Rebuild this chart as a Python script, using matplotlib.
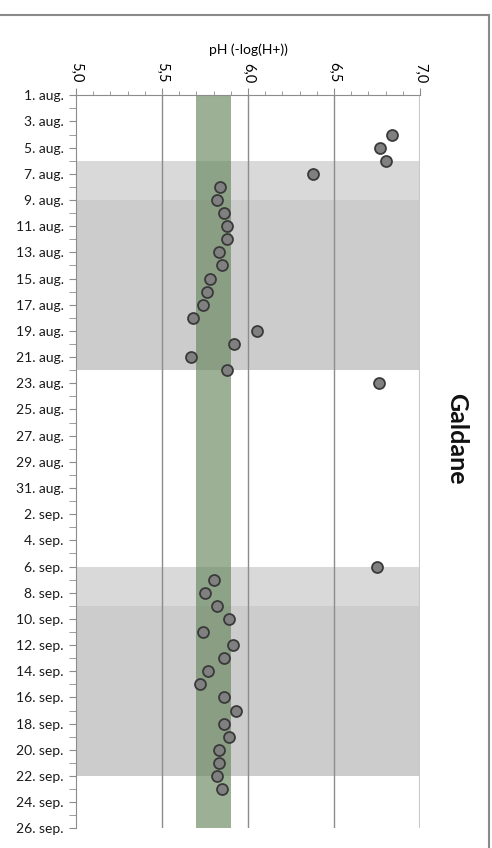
import numpy as np
import pandas as pd
import matplotlib
matplotlib.use("Agg")
import matplotlib.pyplot as plt
from matplotlib.lines import Line2D

plt.rcParams["font.family"] = ["Lato", "DejaVu Sans"]

# axis categories: one row per day
start = pd.Timestamp("2013-08-01")
days = pd.date_range(start, "2013-09-26")
tick_labels = ["1. aug.", "3. aug.", "5. aug.", "7. aug.", "9. aug.", "11. aug.",
               "13. aug.", "15. aug.", "17. aug.", "19. aug.", "21. aug.", "23. aug.",
               "25. aug.", "27. aug.", "29. aug.", "31. aug.", "2. sep.", "4. sep.",
               "6. sep.", "8. sep.", "10. sep.", "12. sep.", "14. sep.", "16. sep.",
               "18. sep.", "20. sep.", "22. sep.", "24. sep.", "26. sep."]

# measured pH
ph_dates = ["08-04", "08-05", "08-06", "08-07", "08-08", "08-09", "08-10", "08-11",
            "08-12", "08-13", "08-14", "08-15", "08-16", "08-17", "08-18", "08-19",
            "08-20", "08-21", "08-22", "08-23",
            "09-06", "09-07", "09-08", "09-09", "09-10", "09-11", "09-12", "09-13",
            "09-14", "09-15", "09-16", "09-17", "09-18", "09-19", "09-20", "09-21",
            "09-22", "09-23"]
ph_values = [6.84, 6.77, 6.80, 6.38, 5.84, 5.82, 5.86, 5.88,
             5.88, 5.83, 5.85, 5.78, 5.76, 5.74, 5.68, 6.05,
             5.92, 5.67, 5.88, 6.76,
             6.75, 5.80, 5.75, 5.82, 5.89, 5.74, 5.91, 5.86,
             5.77, 5.72, 5.86, 5.93, 5.86, 5.89, 5.83, 5.83,
             5.82, 5.85]

# shaded periods (start, end)
light_periods = [("08-06", "08-09"), ("09-06", "09-09")]
dark_periods = [("08-09", "08-22"), ("09-09", "09-22")]
target_ph = (5.7, 5.9)


def day_index(md):
    return (pd.Timestamp("2013-" + md) - start).days


fig = plt.figure(figsize=(4.92, 8.48), dpi=100)
ax = fig.add_axes([0.1545, 0.0232, 0.6992, 0.8644])

for a, b in light_periods:
    ax.axhspan(day_index(a), day_index(b), color="#d9d9d9", lw=0, zorder=0)
for a, b in dark_periods:
    ax.axhspan(day_index(a), day_index(b), color="#cccccc", lw=0, zorder=0)

ax.axvspan(target_ph[0], target_ph[1], color="#65865c", alpha=0.65, lw=0, zorder=2)

for x in [5.5, 6.0, 6.5]:
    ax.axvline(x, color="#8c8c8c", lw=1, zorder=1)
ax.axvline(7.0, color="#c8c8c8", lw=1.5, zorder=1)

y = [day_index(d) for d in ph_dates]
ax.scatter(ph_values, y, s=62, facecolor="#808080", edgecolor="#3a3a3a",
           linewidth=1.3, zorder=4)

ax.set_xlim(5.0, 7.0)
ax.set_ylim(len(days) - 1, 0)

ax.xaxis.set_ticks_position("top")
ax.xaxis.set_label_position("top")
ax.set_xticks(np.arange(5.0, 7.01, 0.5))
ax.set_xticklabels(["5,0", "5,5", "6,0", "6,5", "7,0"], rotation=-90,
                   fontsize=10.5)
ax.set_xticks(np.arange(5.0, 7.01, 0.1), minor=True)
ax.set_xlabel("pH (-log(H+))", fontsize=10, labelpad=6)

ax.set_yticks(np.arange(0, len(days), 2))
ax.set_yticklabels(tick_labels, fontsize=10)
ax.set_yticks(np.arange(0, len(days)), minor=True)

ax.tick_params(axis="both", which="both", color="#8c8c8c", direction="out")
ax.tick_params(axis="x", which="major", length=5, pad=4)
ax.tick_params(axis="x", which="minor", length=3)
ax.tick_params(axis="y", which="both", length=5, pad=4, labelcolor="#1a1a1a")

for side in ["right", "bottom"]:
    ax.spines[side].set_visible(False)
ax.spines["left"].set_color("#8c8c8c")
ax.spines["top"].set_color("#8c8c8c")

fig.text(0.929, 0.483, "Galdane", rotation=-90, fontsize=18, fontweight="bold",
         ha="center", va="center", color="#111111")

# outer frame of the chart
fig.add_artist(Line2D([0, 0.994], [0.982, 0.982], transform=fig.transFigure,
                      color="#8a8a8a", lw=1.5))
fig.add_artist(Line2D([0.994, 0.994], [0.982, 0], transform=fig.transFigure,
                      color="#8a8a8a", lw=1.5))

fig.savefig("out.png", dpi=100)
